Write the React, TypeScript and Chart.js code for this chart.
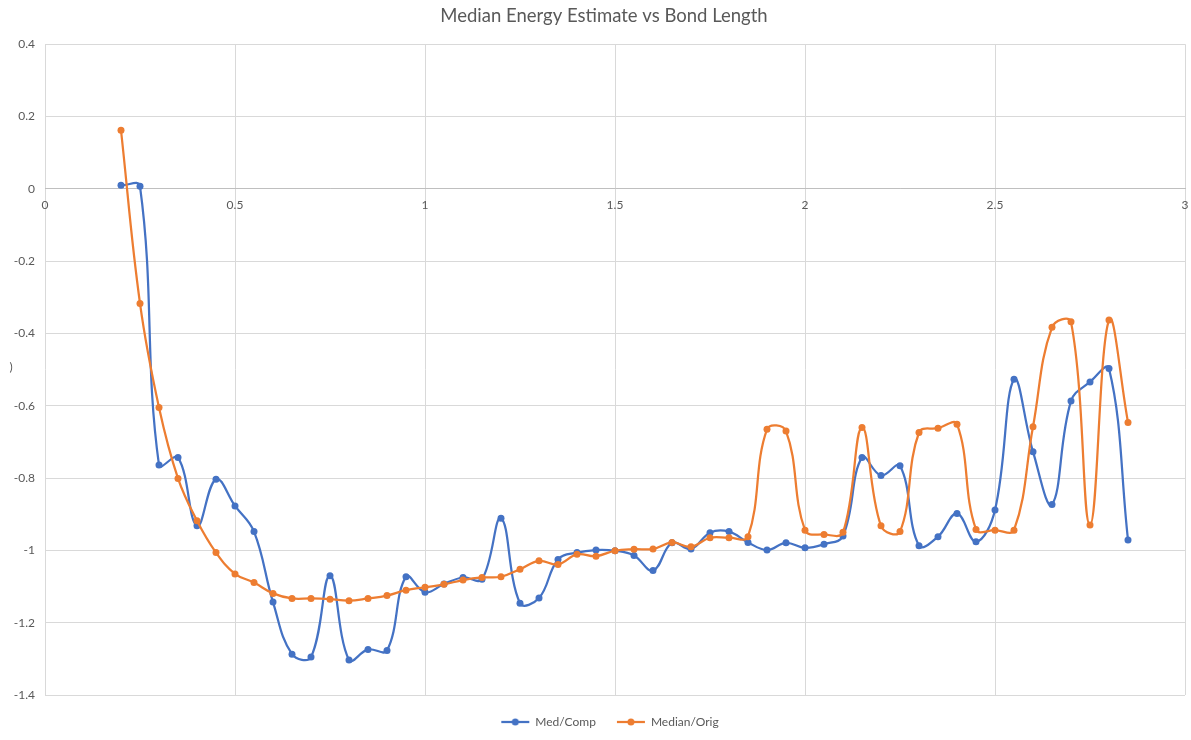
import React, { useEffect, useRef } from "react";
import { Chart, registerables } from "chart.js";

Chart.register(...registerables);

const chartTitle = "Median Energy Estimate vs Bond Length";
const seriesNames = ["Med/Comp", "Median/Orig"];

const bondLengths = [
  0.2, 0.25, 0.3, 0.35, 0.4, 0.45, 0.5, 0.55, 0.6, 0.65,
  0.7, 0.75, 0.8, 0.85, 0.9, 0.95, 1.0, 1.05, 1.1, 1.15,
  1.2, 1.25, 1.3, 1.35, 1.4, 1.45, 1.5, 1.55, 1.6, 1.65,
  1.7, 1.75, 1.8, 1.85, 1.9, 1.95, 2.0, 2.05, 2.1, 2.15,
  2.2, 2.25, 2.3, 2.35, 2.4, 2.45, 2.5, 2.55, 2.6, 2.65,
  2.7, 2.75, 2.8, 2.85,
];

const medComp = [
  0.01, 0.007, -0.764, -0.743, -0.932, -0.803, -0.877, -0.948, -1.143, -1.287,
  -1.295, -1.07, -1.303, -1.274, -1.277, -1.073, -1.116, -1.093, -1.075, -1.08,
  -0.911, -1.146, -1.132, -1.025, -1.006, -0.999, -1.001, -1.014, -1.056, -0.979,
  -0.996, -0.951, -0.948, -0.978, -0.999, -0.979, -0.993, -0.983, -0.96, -0.743,
  -0.793, -0.766, -0.987, -0.962, -0.898, -0.976, -0.888, -0.527, -0.727, -0.873,
  -0.587, -0.534, -0.497, -0.971,
];

const medianOrig = [
  0.162, -0.317, -0.605, -0.801, -0.918, -1.006, -1.065, -1.089, -1.119, -1.133,
  -1.133, -1.135, -1.139, -1.133, -1.125, -1.11, -1.102, -1.094, -1.082, -1.075,
  -1.073, -1.052, -1.029, -1.039, -1.011, -1.016, -1.001, -0.997, -0.996, -0.978,
  -0.99, -0.965, -0.965, -0.962, -0.665, -0.67, -0.944, -0.956, -0.95, -0.66,
  -0.932, -0.948, -0.674, -0.662, -0.651, -0.942, -0.944, -0.944, -0.658, -0.383,
  -0.368, -0.93, -0.363, -0.646,
];

const xTickMin = 0;
const xTickMax = 3;
const xTickStep = 0.5;
const yTickMin = -1.4;
const yTickMax = 0.4;
const yTickStep = 0.2;
const yAxisTitleFragment = ")";

const BLUE = "#4472C4";
const ORANGE = "#ED7D31";
const TEXT = "#595959";
const GRID = "#d9d9d9";
const FONT = "Lato, 'Open Sans', sans-serif";

function makeLegendMarker(color: string): HTMLCanvasElement {
  const c = document.createElement("canvas");
  c.width = 30;
  c.height = 10;
  const ctx = c.getContext("2d")!;
  ctx.strokeStyle = color;
  ctx.lineWidth = 2.25;
  ctx.beginPath();
  ctx.moveTo(1, 5);
  ctx.lineTo(29, 5);
  ctx.stroke();
  ctx.fillStyle = color;
  ctx.beginPath();
  ctx.arc(15, 5, 3.5, 0, Math.PI * 2);
  ctx.fill();
  return c;
}

const plainNumber = (v: any) => `${Math.round(Number(v) * 100) / 100}`;

export default function App() {
  const canvasRef = useRef<HTMLCanvasElement | null>(null);

  useEffect(() => {
    document.body.style.margin = "0";
    if (!canvasRef.current) return;
    const markers = [makeLegendMarker(BLUE), makeLegendMarker(ORANGE)];

    const fragmentPlugin = {
      id: "yTitleFragment",
      afterLayout(chart: any) {
        if (chart.titleBlock) chart.titleBlock.left = 23;
        if (chart.legend) chart.legend.left = 35;
      },
      afterDraw(chart: any) {
        const ctx = chart.ctx;
        ctx.save();
        ctx.fillStyle = TEXT;
        ctx.font = `12px ${FONT}`;
        ctx.textAlign = "center";
        ctx.textBaseline = "middle";
        ctx.fillText(yAxisTitleFragment, 11, 367);
        ctx.restore();
      },
    };

    const chart = new Chart(canvasRef.current, {
      type: "line",
      data: {
        datasets: [
          {
            label: seriesNames[0],
            data: bondLengths.map((x, i) => ({ x, y: medComp[i] })),
            borderColor: BLUE,
            backgroundColor: BLUE,
            borderWidth: 2.25,
            pointRadius: 3.5,
            pointHoverRadius: 3.5,
            pointBorderWidth: 0,
            tension: 0.4,
            fill: false,
            order: 1,
          },
          {
            label: seriesNames[1],
            data: bondLengths.map((x, i) => ({ x, y: medianOrig[i] })),
            borderColor: ORANGE,
            backgroundColor: ORANGE,
            borderWidth: 2.25,
            pointRadius: 3.5,
            pointHoverRadius: 3.5,
            pointBorderWidth: 0,
            tension: 0.4,
            fill: false,
            order: 0,
          },
        ],
      },
      options: {
        animation: false,
        responsive: true,
        maintainAspectRatio: false,
        layout: { padding: { left: 0, right: 6, top: 0, bottom: 2 } },
        font: { family: FONT },
        scales: {
          x: {
            type: "linear",
            position: { y: 0 } as any,
            min: xTickMin,
            max: xTickMax,
            afterFit(scale: any) {
              scale.height = 0;
              scale.paddingRight = 0;
              scale.paddingLeft = 0;
            },
            ticks: {
              stepSize: xTickStep,
              color: TEXT,
              font: { size: 12, family: FONT },
              padding: 9,
              maxRotation: 0,
              autoSkip: false,
              callback: plainNumber,
            },
            grid: { color: GRID, drawTicks: false, lineWidth: 1 },
            border: { display: true, color: "#bfbfbf", width: 1 },
          },
          y: {
            type: "linear",
            min: yTickMin,
            max: yTickMax,
            afterFit(scale: any) {
              scale.width = 45;
            },
            ticks: {
              stepSize: yTickStep,
              color: TEXT,
              font: { size: 12, family: FONT },
              padding: 10,
              callback: plainNumber,
            },
            grid: { color: GRID, drawTicks: false, lineWidth: 1 },
            border: { display: false },
          },
        },
        plugins: {
          title: {
            display: true,
            text: chartTitle,
            color: TEXT,
            font: { size: 18.5, family: FONT, weight: "normal" },
            padding: { top: 5, bottom: 17 },
          },
          legend: {
            position: "bottom",
            labels: {
              usePointStyle: true,
              pointStyleWidth: 28,
              color: TEXT,
              font: { size: 12, family: FONT },
              padding: 21,
              sort: (a: any, b: any) => a.datasetIndex - b.datasetIndex,
              generateLabels(chart: any) {
                const items = Chart.defaults.plugins.legend.labels.generateLabels(chart);
                return items.map((it: any) => ({
                  ...it,
                  pointStyle: markers[it.datasetIndex],
                }));
              },
            },
          },
          tooltip: { enabled: false },
        },
      },
      plugins: [fragmentPlugin],
    } as any);

    return () => chart.destroy();
  }, []);

  return (
    <div style={{ width: 1191, height: 740, position: "relative" }}>
      <canvas ref={canvasRef} />
    </div>
  );
}
